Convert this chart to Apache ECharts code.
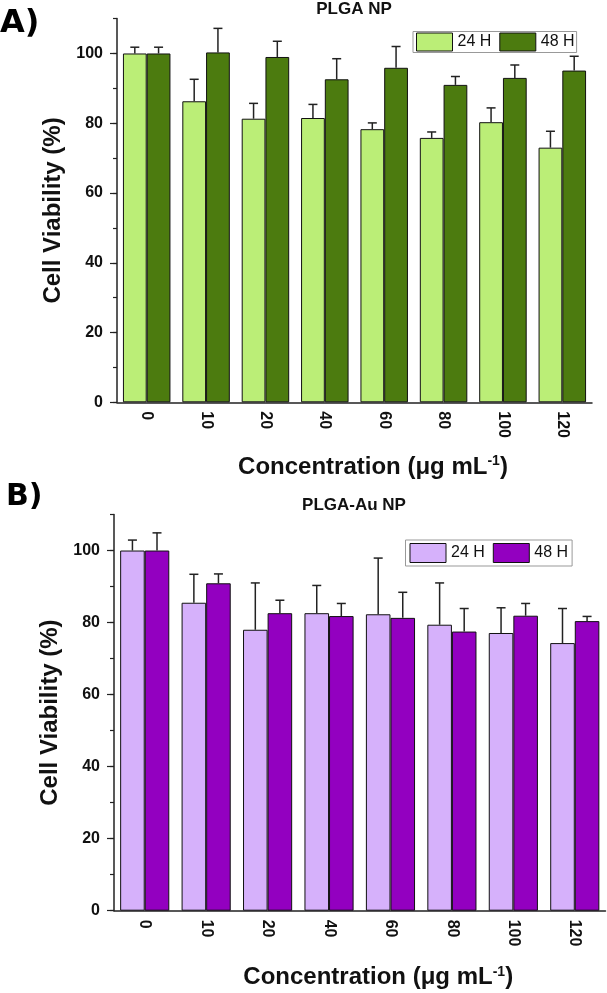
<!DOCTYPE html>
<html>
<head>
<meta charset="utf-8">
<script src="https://cdn.jsdelivr.net/npm/echarts@6/dist/echarts.min.js"></script>
<style>
html, body { margin: 0; padding: 0; background: #fff; }
#main { width: 607px; height: 993px; }
</style>
</head>
<body>
<div id="main"></div>
<script>
// concentrations (µg/mL)
var categories = ['0', '10', '20', '40', '60', '80', '100', '120'];
var yTicks = [0, 20, 40, 60, 80, 100];

// A) PLGA NP
var plga24 = [100, 86.3, 81.3, 81.5, 78.3, 75.8, 80.3, 73.0];
var plga24Err = [1.8, 6.3, 4.4, 3.9, 1.8, 1.7, 4.1, 4.7];
var plga48 = [100, 100.3, 99.0, 92.6, 95.9, 91.0, 93.0, 95.1];
var plga48Err = [1.8, 6.9, 4.5, 5.9, 6.1, 2.4, 3.7, 4.1];

// B) PLGA-Au NP
var au24 = [100, 85.5, 78.0, 82.6, 82.3, 79.4, 77.1, 74.3];
var au24Err = [2.9, 7.9, 13.0, 7.7, 15.6, 11.6, 7.0, 9.6];
var au48 = [100, 90.9, 82.6, 81.8, 81.3, 77.5, 81.9, 80.4];
var au48Err = [4.9, 2.6, 3.6, 3.5, 7.1, 6.4, 3.4, 1.3];

var FONT = "'Liberation Sans', Arial, sans-serif";
var myChart = echarts.init(document.getElementById('main'));

function errData(vals, errs) {
	return vals.map(function (v, i) { return [i, v, errs[i]]; });
}

// side: -1 left bar, +1 right bar
function errRender(side) {
	return function (params, api) {
		var i = api.value(0), v = api.value(1), e = api.value(2);
		var base = api.coord([i, v]);
		var top = api.coord([i, v + e]);
		var catW = api.size([1, 0])[0];
		var barW = catW * 0.8 / 2;
		var cx = base[0] + side * barW / 2;
		var st = { stroke: '#222', lineWidth: 1.5 };
		return {
			type: 'group',
			children: [
				{ type: 'line', shape: { x1: cx, y1: base[1], x2: cx, y2: top[1] }, style: st },
				{ type: 'line', shape: { x1: cx - 4.5, y1: top[1], x2: cx + 4.5, y2: top[1] }, style: st }
			]
		};
	};
}

function xAx(gi, gap) {
	return {
		type: 'category', gridIndex: gi, data: categories,
		axisLine: { lineStyle: { color: '#222', width: 1.5 } },
		axisTick: { show: false },
		axisLabel: { rotate: -90, margin: 9, color: '#111', fontSize: 16, fontWeight: 'bold', fontFamily: FONT },
		name: '{n|Concentration (μg mL}{s|-1}{n|)}',
		nameLocation: 'middle', nameGap: gap,
		nameTextStyle: {
			padding: [0, 0, 0, 37],
			rich: {
				n: { fontSize: 24, fontWeight: 'bold', fontFamily: FONT, color: '#111', lineHeight: 26 },
				s: { fontSize: 14, fontWeight: 'bold', fontFamily: FONT, color: '#111', verticalAlign: 'top', lineHeight: 14 }
			}
		}
	};
}

function yMinor(gi) {
	return {
		type: 'value', gridIndex: gi, position: 'left', min: 0, max: 110, interval: 10,
		axisLine: { show: true, lineStyle: { color: '#222', width: 1.5 } },
		axisTick: { show: true, length: 4, lineStyle: { color: '#222', width: 1.2 } },
		axisLabel: { show: false }, splitLine: { show: false }
	};
}

function yMajor(gi) {
	return {
		type: 'value', gridIndex: gi, position: 'left', min: 0, max: 110, interval: yTicks[1] - yTicks[0],
		axisLine: { show: false },
		axisTick: { show: true, length: 7, lineStyle: { color: '#222', width: 1.2 } },
		axisLabel: { margin: 14, showMaxLabel: false, color: '#111', fontSize: 16, fontWeight: 'bold', fontFamily: FONT },
		splitLine: { show: false },
		name: 'Cell Viability (%)', nameLocation: 'middle', nameRotate: 90, nameGap: 52,
		nameTextStyle: { fontSize: 24, fontWeight: 'bold', fontFamily: FONT, color: '#111' }
	};
}

function barSeries(name, gi, vals, color) {
	return {
		name: name, type: 'bar', xAxisIndex: gi, yAxisIndex: gi * 2 + 1, data: vals,
		barGap: 0, barCategoryGap: '20%',
		itemStyle: { color: color, borderColor: '#111', borderWidth: 1 }
	};
}

function errSeries(gi, vals, errs, side) {
	return {
		type: 'custom', xAxisIndex: gi, yAxisIndex: gi * 2 + 1, z: 5,
		data: errData(vals, errs), renderItem: errRender(side),
		encode: { x: 0, y: 1 }, silent: true
	};
}

function legendOf(names, left, top, pad, ih) {
	return {
		data: names, left: left, top: top, orient: 'horizontal', icon: 'rect',
		itemWidth: 36, itemHeight: ih, itemGap: 8, padding: pad,
		borderColor: '#999', borderWidth: 1,
		itemStyle: { borderColor: '#111', borderWidth: 1 },
		formatter: function (n) { return n.slice(2); },
		textStyle: { fontSize: 16, color: '#111', fontFamily: FONT }
	};
}

var option = {
	animation: false,
	backgroundColor: '#fff',
	grid: [
		{ left: 117, top: 18.6, width: 475, height: 383.7 },
		{ left: 114, top: 514.5, width: 491.5, height: 396.2 }
	],
	legend: [
		legendOf(['A 24 H', 'A 48 H'], 413, 31.5, [1, 2, 1, 3], 18),
		legendOf(['B 24 H', 'B 48 H'], 405.5, 540, [3, 4, 3, 4], 19)
	],
	graphic: [
		{ type: 'text', x: 0, y: 8, style: { text: 'A)', font: '900 32px "DejaVu Sans", sans-serif', fill: '#000' } },
		{ type: 'text', x: 354, y: 1, style: { text: 'PLGA NP', font: 'bold 17px ' + FONT, fill: '#111', textAlign: 'center' } },
		{ type: 'text', x: 6, y: 482, style: { text: 'B)', font: '900 30px "DejaVu Sans", sans-serif', fill: '#000' } },
		{ type: 'text', x: 354, y: 497, style: { text: 'PLGA-Au NP', font: 'bold 17px ' + FONT, fill: '#111', textAlign: 'center' } }
	],
	xAxis: [xAx(0, 52), xAx(1, 54)],
	yAxis: [yMinor(0), yMajor(0), yMinor(1), yMajor(1)],
	series: [
		barSeries('A 24 H', 0, plga24, '#bbee77'),
		barSeries('A 48 H', 0, plga48, '#4c7b0f'),
		errSeries(0, plga24, plga24Err, -1),
		errSeries(0, plga48, plga48Err, 1),
		barSeries('B 24 H', 1, au24, '#d6b1fb'),
		barSeries('B 48 H', 1, au48, '#9300c0'),
		errSeries(1, au24, au24Err, -1),
		errSeries(1, au48, au48Err, 1)
	]
};
myChart.setOption(option);
</script>
</body>
</html>
